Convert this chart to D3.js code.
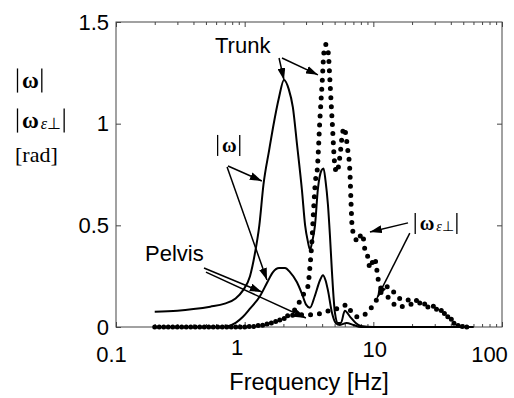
<!DOCTYPE html>
<html>
<head>
<meta charset="utf-8">
<script src="https://cdn.jsdelivr.net/npm/d3@7"></script>
<style>
  body { margin: 0; background: #fff; }
  svg { display: block; }
</style>
</head>
<body>
<div id="chart"></div>
<script>
// |omega| trunk (solid, big peak)
var freqTrunkW = [0.2, 0.3, 0.4, 0.54, 0.7, 0.85, 0.97, 1.1, 1.2, 1.3, 1.4, 1.55, 1.66, 1.85, 2.02, 2.2, 2.37, 2.55, 2.79, 2.95, 3.1, 3.22, 3.35, 3.52, 3.71, 3.95, 4.1, 4.25, 4.44, 4.6, 4.77, 5.03, 5.3, 5.6, 6.0, 6.6, 7.3, 8, 10, 20, 40, 60];
var valTrunkW  = [0.075, 0.08, 0.088, 0.1, 0.115, 0.14, 0.18, 0.25, 0.36, 0.5, 0.7, 0.87, 0.98, 1.13, 1.215, 1.17, 1.08, 0.9, 0.67, 0.5, 0.42, 0.38, 0.42, 0.5, 0.68, 0.77, 0.78, 0.72, 0.6, 0.45, 0.27, 0.07, 0.02, 0.02, 0.08, 0.05, 0.02, 0.005, 0, 0, 0, 0];

// |omega| pelvis (solid, small)
var freqPelvisW = [0.2, 0.6, 0.73, 0.85, 0.97, 1.1, 1.31, 1.5, 1.66, 1.85, 2.06, 2.25, 2.55, 2.8, 3.0, 3.22, 3.5, 3.85, 4.06, 4.25, 4.44, 4.77, 5.1, 5.5, 6.2, 7, 8, 20, 60];
var valPelvisW  = [0, 0, 0.003, 0.02, 0.05, 0.09, 0.15, 0.22, 0.27, 0.29, 0.29, 0.27, 0.22, 0.16, 0.11, 0.095, 0.15, 0.23, 0.255, 0.23, 0.18, 0.07, 0.02, 0.01, 0.02, 0.01, 0, 0, 0];

// |omega_eps_perp| trunk (dotted, big peak)
var freqTrunkE = [0.2, 0.5, 1.0, 1.4, 1.8, 2.2, 2.55, 2.79, 3.0, 3.1, 3.22, 3.33, 3.45, 3.55, 3.65, 3.85, 4.0, 4.13, 4.28, 4.46, 4.6, 4.73, 4.82, 4.92, 5.03, 5.2, 5.5, 5.75, 5.91, 6.1, 6.3, 6.58, 6.7, 6.85, 7.2, 7.6, 8.1, 8.4, 8.6, 9.1, 9.4, 10.2, 10.6, 10.8, 11.3, 12, 13, 14.5, 16, 18, 20, 23, 26, 30, 34, 38, 42, 47, 56];
var valTrunkE  = [0, 0, 0, 0.01, 0.03, 0.06, 0.1, 0.15, 0.18, 0.2, 0.3, 0.42, 0.6, 0.72, 0.76, 1.03, 1.2, 1.35, 1.39, 1.35, 1.21, 1.07, 0.98, 0.87, 0.79, 0.76, 0.84, 0.95, 0.98, 0.95, 0.88, 0.76, 0.62, 0.49, 0.44, 0.42, 0.46, 0.43, 0.38, 0.34, 0.29, 0.34, 0.29, 0.25, 0.2, 0.18, 0.2, 0.17, 0.14, 0.13, 0.14, 0.12, 0.11, 0.1, 0.08, 0.05, 0.02, 0.005, 0];

// |omega_eps_perp| pelvis (dotted, small)
var freqPelvisE = [0.2, 0.9, 1.2, 1.6, 2.0, 2.5, 3.0, 3.5, 4.0, 4.5, 5.2, 5.8, 6.2, 6.8, 7.5, 8.5, 9.5, 10.5, 11.5, 12.5, 14, 16, 19, 22, 26, 30, 35, 40, 45, 50, 56];
var valPelvisE  = [0, 0, 0.005, 0.02, 0.04, 0.06, 0.06, 0.06, 0.07, 0.08, 0.09, 0.1, 0.11, 0.07, 0.05, 0.06, 0.09, 0.13, 0.17, 0.16, 0.12, 0.1, 0.11, 0.12, 0.1, 0.09, 0.07, 0.04, 0.01, 0, 0];

var xTicks = [0.1, 1, 10, 100];
var xTickLabels = ['0.1', '1', '10', '100'];
var yTicks = [0, 0.5, 1, 1.5];
var yTickLabels = ['0', '0.5', '1', '1.5'];

var width = 514, height = 398;
var margin = {left: 116, top: 22, right: 12, bottom: 71};
var w = width - margin.left - margin.right;
var h = height - margin.top - margin.bottom;

var svg = d3.select('#chart').append('svg')
  .attr('width', width).attr('height', height);

var defs = svg.append('defs');
defs.append('marker')
  .attr('id', 'arr')
  .attr('viewBox', '0 0 12 8')
  .attr('refX', 12).attr('refY', 4)
  .attr('markerWidth', 12).attr('markerHeight', 8)
  .attr('markerUnits', 'userSpaceOnUse')
  .attr('orient', 'auto')
  .append('path').attr('d', 'M0,0 L12,4 L0,8 z').attr('fill', '#000');

var g = svg.append('g').attr('transform', 'translate(' + margin.left + ',' + margin.top + ')');

var x = d3.scaleLog().domain([0.1, 100]).range([0, w]);
var y = d3.scaleLinear().domain([0, 1.5]).range([h, 0]);

// minor log ticks
var minor = [];
[0.1, 1, 10].forEach(function(d) {
  for (var k = 2; k <= 9; k++) minor.push(d * k);
});

var sans = 'Arial, "Liberation Sans", Helvetica, sans-serif';
var serif = '"Times New Roman", "Liberation Serif", Times, serif';

// frame
g.append('rect').attr('width', w).attr('height', h)
  .attr('fill', 'none').attr('stroke', '#444').attr('stroke-width', 1);

function styleAxis(sel) {
  sel.select('.domain').remove();
  sel.selectAll('line').attr('stroke', '#444');
}

g.append('g').attr('transform', 'translate(0,' + h + ')')
  .call(d3.axisBottom(x).tickValues(minor).tickSizeInner(-3).tickFormat(''))
  .call(styleAxis);
g.append('g')
  .call(d3.axisTop(x).tickValues(minor).tickSizeInner(-3).tickFormat(''))
  .call(styleAxis);
g.append('g')
  .call(d3.axisTop(x).tickValues(xTicks).tickSizeInner(-5).tickFormat(''))
  .call(styleAxis);

var xOff = {'0.1': [-5, 6], '1': [-8, -1], '10': [1, 1], '100': [-13, 6]};
var xAxis = g.append('g').attr('transform', 'translate(0,' + h + ')')
  .call(d3.axisBottom(x).tickValues(xTicks).tickSizeInner(-5).tickPadding(13)
    .tickFormat(function(d, i) { return xTickLabels[i]; }))
  .call(styleAxis);
xAxis.selectAll('text')
  .attr('font-family', sans).attr('font-size', 22).attr('fill', '#000')
  .attr('dx', function(d, i) { return xOff[xTickLabels[i]][0]; })
  .attr('dy', function(d, i) { return (15.6 + xOff[xTickLabels[i]][1]) + 'px'; });

var yAxis = g.append('g')
  .call(d3.axisLeft(y).tickValues(yTicks).tickSizeInner(-5).tickPadding(7)
    .tickFormat(function(d, i) { return yTickLabels[i]; }))
  .call(styleAxis);
yAxis.selectAll('text')
  .attr('font-family', sans).attr('font-size', 22).attr('fill', '#000');

g.append('g').attr('transform', 'translate(' + w + ',0)')
  .call(d3.axisRight(y).tickValues([0.5, 1]).tickSizeInner(-5).tickFormat(''))
  .call(styleAxis);

// curves
function pts(fs, vs) { return fs.map(function(f, i) { return [f, vs[i]]; }); }
var line = d3.line()
  .x(function(d) { return x(d[0]); })
  .y(function(d) { return y(d[1]); })
  .curve(d3.curveMonotoneX);

[[freqTrunkE, valTrunkE, 0], [freqPelvisE, valPelvisE, 4.5]].forEach(function(s) {
  g.append('path').datum(pts(s[0], s[1]))
    .attr('d', line).attr('fill', 'none')
    .attr('stroke', '#000').attr('stroke-width', 5)
    .attr('stroke-linecap', 'round')
    .attr('stroke-dasharray', '0 9')
    .attr('stroke-dashoffset', s[2]);
});
[[freqTrunkW, valTrunkW], [freqPelvisW, valPelvisW]].forEach(function(s) {
  g.append('path').datum(pts(s[0], s[1]))
    .attr('d', line).attr('fill', 'none')
    .attr('stroke', '#000').attr('stroke-width', 2)
    .attr('stroke-linejoin', 'round');
});

// annotation arrows, in data units [from f, from v, to f, to v]
var arrows = [
  [1.85, 1.323, 2.02, 1.215],
  [1.95, 1.323, 3.71, 1.24],
  [0.742, 0.792, 1.36, 0.718],
  [0.73, 0.787, 1.49, 0.231],
  [0.483, 0.29, 1.36, 0.172],
  [0.50, 0.27, 2.99, 0.044],
  [18.6, 0.512, 9.41, 0.467],
  [19.2, 0.462, 10.7, 0.143]
];
g.selectAll('.arrow').data(arrows).enter().append('line')
  .attr('class', 'arrow')
  .attr('x1', function(d) { return x(d[0]); })
  .attr('y1', function(d) { return y(d[1]); })
  .attr('x2', function(d) { return x(d[2]); })
  .attr('y2', function(d) { return y(d[3]); })
  .attr('stroke', '#000').attr('stroke-width', 1.5)
  .attr('marker-end', 'url(#arr)');

// annotation labels
g.append('text').attr('x', x(0.588)).attr('y', y(1.347))
  .attr('font-family', sans).attr('font-size', 22).text('Trunk');
g.append('text').attr('x', x(0.168)).attr('y', y(0.325))
  .attr('font-family', sans).attr('font-size', 22).text('Pelvis');

// |omega| style labels, with the bars drawn as lines
function omega(parent, px, py, size, sub) {
  var t = parent.append('text').attr('x', px + 6).attr('y', py)
    .attr('font-family', serif).attr('font-size', size).attr('fill', '#000');
  t.append('tspan').attr('font-weight', 'bold').text('\u03c9');
  if (sub) {
    t.append('tspan').attr('font-style', 'italic').attr('font-size', size * 0.7)
      .attr('dx', 2).attr('dy', 1).text('\u03b5');
    t.append('tspan').attr('font-size', size * 0.7).text('\u22a5');
  }
  var bb = t.node().getBBox();
  var top = py - size * 0.85, bot = py + size * 0.2;
  [px + 1.5, bb.x + bb.width + 3].forEach(function(bx) {
    parent.append('line')
      .attr('x1', bx).attr('x2', bx).attr('y1', top).attr('y2', bot)
      .attr('stroke', '#000').attr('stroke-width', 1.3);
  });
}
omega(g, x(0.6), y(0.861), 20, false);
omega(g, x(20.6), y(0.477), 20, true);

// y label
omega(svg, 16, 88, 23, false);
omega(svg, 16, 128, 23, true);
svg.append('text').attr('x', 15).attr('y', 162)
  .attr('font-family', serif).attr('font-size', 22).text('[rad]');

// x label
svg.append('text').attr('x', 309).attr('y', 390).attr('text-anchor', 'middle')
  .attr('font-family', sans).attr('font-size', 23.5).text('Frequency [Hz]');
</script>
</body>
</html>
